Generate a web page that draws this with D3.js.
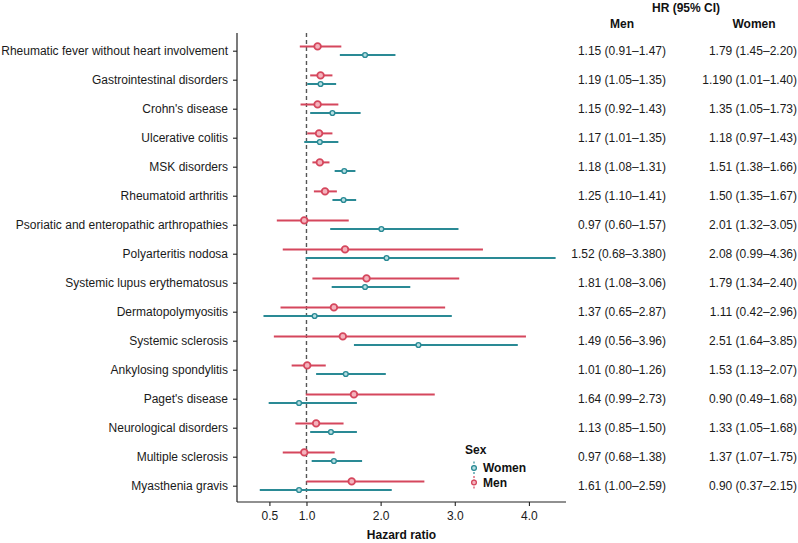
<!DOCTYPE html>
<html><head><meta charset="utf-8">
<script src="https://cdn.jsdelivr.net/npm/d3@7"></script>
<style>
body{margin:0;background:#fff;}
svg{display:block;font-family:"Liberation Sans",Arial,Helvetica,sans-serif;}
</style></head>
<body>
<svg id="chart" width="798" height="543"></svg>
<script>
const categories = ["Rheumatic fever without heart involvement","Gastrointestinal disorders","Crohn's disease","Ulcerative colitis","MSK disorders","Rheumatoid arthritis","Psoriatic and enteropathic arthropathies","Polyarteritis nodosa","Systemic lupus erythematosus","Dermatopolymyositis","Systemic sclerosis","Ankylosing spondylitis","Paget's disease","Neurological disorders","Multiple sclerosis","Myasthenia gravis"];
const menHR =    [1.15,1.19,1.15,1.17,1.18,1.25,0.97,1.52,1.81,1.37,1.49,1.01,1.64,1.13,0.97,1.61];
const menLow =   [0.91,1.05,0.92,1.01,1.08,1.10,0.60,0.68,1.08,0.65,0.56,0.80,0.99,0.85,0.68,1.00];
const menHigh =  [1.47,1.35,1.43,1.35,1.31,1.41,1.57,3.38,3.06,2.87,3.96,1.26,2.73,1.50,1.38,2.59];
const womenHR =  [1.79,1.19,1.35,1.18,1.51,1.50,2.01,2.08,1.79,1.11,2.51,1.53,0.90,1.33,1.37,0.90];
const womenLow = [1.45,1.01,1.05,0.97,1.38,1.35,1.32,0.99,1.34,0.42,1.64,1.13,0.49,1.05,1.07,0.37];
const womenHigh= [2.20,1.40,1.73,1.43,1.66,1.67,3.05,4.36,2.40,2.96,3.85,2.07,1.68,1.68,1.75,2.15];
const menText = ["1.15 (0.91–1.47)","1.19 (1.05–1.35)","1.15 (0.92–1.43)","1.17 (1.01–1.35)","1.18 (1.08–1.31)","1.25 (1.10–1.41)","0.97 (0.60–1.57)","1.52 (0.68–3.380)","1.81 (1.08–3.06)","1.37 (0.65–2.87)","1.49 (0.56–3.96)","1.01 (0.80–1.26)","1.64 (0.99–2.73)","1.13 (0.85–1.50)","0.97 (0.68–1.38)","1.61 (1.00–2.59)"];
const womenText = ["1.79 (1.45–2.20)","1.190 (1.01–1.40)","1.35 (1.05–1.73)","1.18 (0.97–1.43)","1.51 (1.38–1.66)","1.50 (1.35–1.67)","2.01 (1.32–3.05)","2.08 (0.99–4.36)","1.79 (1.34–2.40)","1.11 (0.42–2.96)","2.51 (1.64–3.85)","1.53 (1.13–2.07)","0.90 (0.49–1.68)","1.33 (1.05–1.68)","1.37 (1.07–1.75)","0.90 (0.37–2.15)"];
const xTicks = [0.5,1.0,2.0,3.0,4.0];

(function(){
const menColor = "#d5475d", womenColor = "#2a8a95";
const menFill = "#f4b3bd", womenFill = "#b7dfe2";

const svg = d3.select("#chart");
const pL = 237, pR = 566, pT = 33, pB = 502;
const x = d3.scaleLinear().domain([0.063, 4.5]).range([pL, pR]);
const y = d3.scalePoint().domain(categories).range([50.7, 485.7]);
const off = 4.3;

svg.append("line").attr("x1", x(1)).attr("x2", x(1)).attr("y1", pT).attr("y2", pB)
  .attr("stroke", "#555").attr("stroke-width", 1.4).attr("stroke-dasharray", "4,3");

const yAxis = svg.append("g").attr("transform", `translate(${pL},0)`)
  .call(d3.axisLeft(y).tickSize(4).tickPadding(5));
yAxis.select(".domain").attr("d", `M0,${pT}V${pB}`).attr("stroke", "#222").attr("stroke-width", 1.2);
yAxis.selectAll(".tick line").attr("stroke", "#222").attr("stroke-width", 1.1);
yAxis.selectAll(".tick text").attr("font-size", 12).attr("fill", "#1a1a1a")
  .attr("font-family", "Liberation Sans, Arial, sans-serif");

const xAxis = svg.append("g").attr("transform", `translate(0,${pB})`)
  .call(d3.axisBottom(x).tickValues(xTicks).tickFormat(d3.format(".1f")).tickSize(4).tickPadding(5));
xAxis.select(".domain").attr("d", `M${pL},0H${pR}`).attr("stroke", "#222").attr("stroke-width", 1.2);
xAxis.selectAll(".tick line").attr("stroke", "#222").attr("stroke-width", 1.1);
xAxis.selectAll(".tick text").attr("font-size", 12).attr("fill", "#1a1a1a")
  .attr("font-family", "Liberation Sans, Arial, sans-serif");

svg.append("text").attr("x", (pL + pR) / 2).attr("y", 539).attr("text-anchor", "middle")
  .attr("font-size", 12).attr("font-weight", "bold").attr("fill", "#111").text("Hazard ratio");

const idx = d3.range(categories.length);
svg.append("g").selectAll("line").data(idx).join("line")
  .attr("x1", i => x(womenLow[i])).attr("x2", i => x(womenHigh[i]))
  .attr("y1", i => y(categories[i]) + off).attr("y2", i => y(categories[i]) + off)
  .attr("stroke", womenColor).attr("stroke-width", 2);
svg.append("g").selectAll("circle").data(idx).join("circle")
  .attr("cx", i => x(womenHR[i])).attr("cy", i => y(categories[i]) + off).attr("r", 2.4)
  .attr("fill", womenFill).attr("stroke", womenColor).attr("stroke-width", 1.4);

svg.append("g").selectAll("line").data(idx).join("line")
  .attr("x1", i => x(menLow[i])).attr("x2", i => x(menHigh[i]))
  .attr("y1", i => y(categories[i]) - off).attr("y2", i => y(categories[i]) - off)
  .attr("stroke", menColor).attr("stroke-width", 2);
svg.append("g").selectAll("circle").data(idx).join("circle")
  .attr("cx", i => x(menHR[i])).attr("cy", i => y(categories[i]) - off).attr("r", 3.3)
  .attr("fill", menFill).attr("stroke", menColor).attr("stroke-width", 1.8);

svg.append("text").attr("x", 686).attr("y", 12).attr("text-anchor", "middle")
  .attr("font-size", 12).attr("font-weight", "bold").attr("fill", "#111").text("HR (95% CI)");
svg.append("text").attr("x", 622).attr("y", 28).attr("text-anchor", "middle")
  .attr("font-size", 12).attr("font-weight", "bold").attr("fill", "#111").text("Men");
svg.append("text").attr("x", 754).attr("y", 28).attr("text-anchor", "middle")
  .attr("font-size", 12).attr("font-weight", "bold").attr("fill", "#111").text("Women");
svg.append("g").selectAll("text").data(idx).join("text")
  .attr("x", 666).attr("y", i => y(categories[i])).attr("dy", "0.35em").attr("text-anchor", "end")
  .attr("font-size", 12).attr("fill", "#1a1a1a").text(i => menText[i]);
svg.append("g").selectAll("text").data(idx).join("text")
  .attr("x", 797).attr("y", i => y(categories[i])).attr("dy", "0.35em").attr("text-anchor", "end")
  .attr("font-size", 12).attr("fill", "#1a1a1a").text(i => womenText[i]);

const lg = svg.append("g");
lg.append("text").attr("x", 465).attr("y", 454).attr("font-size", 12).attr("font-weight", "bold")
  .attr("fill", "#111").text("Sex");
const legendItems = [{label: "Women", c: womenColor, f: womenFill, yy: 468},
                     {label: "Men", c: menColor, f: menFill, yy: 482.5}];
legendItems.forEach(d => {
  lg.append("line").attr("x1", 474).attr("x2", 474).attr("y1", d.yy - 6.5).attr("y2", d.yy + 6.5)
    .attr("stroke", d.c).attr("stroke-width", 1.2).attr("stroke-dasharray", "2,1.5");
  lg.append("circle").attr("cx", 474).attr("cy", d.yy).attr("r", 2.4)
    .attr("fill", d.f).attr("stroke", d.c).attr("stroke-width", 1.3);
  lg.append("text").attr("x", 483).attr("y", d.yy).attr("dy", "0.35em").attr("font-size", 12)
    .attr("font-weight", "bold").attr("fill", "#111").text(d.label);
});
})();
</script>
</body></html>
